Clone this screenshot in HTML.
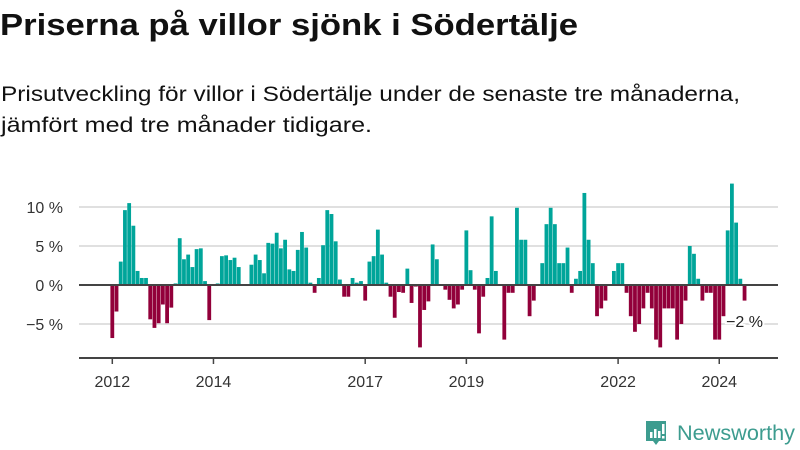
<!DOCTYPE html>
<html><head><meta charset="utf-8"><style>
body{margin:0;background:#fff;width:800px;height:450px;overflow:hidden}
svg{display:block;font-family:"Liberation Sans",sans-serif}
</style></head><body>
<svg id="chart" width="800" height="450" viewBox="0 0 800 450">
<text x="0" y="35" font-size="31" font-weight="bold" fill="#111" textLength="578" lengthAdjust="spacingAndGlyphs">Priserna på villor sjönk i Södertälje</text>
<text x="1" y="101" font-size="21" fill="#111" textLength="739" lengthAdjust="spacingAndGlyphs">Prisutveckling för villor i Södertälje under de senaste tre månaderna,</text>
<text x="1" y="132" font-size="21" fill="#111" textLength="371" lengthAdjust="spacingAndGlyphs">jämfört med tre månader tidigare.</text>
<g id="grid"></g><g id="bars"></g><g id="axes"></g>
<g>
<path d="M646 421 h20 v20 h-7 l-3 4 l-3 -4 h-7 z" fill="#3d9c8f"/>
<rect x="650" y="432" width="2.5" height="6" fill="#fff"/><rect x="654" y="429" width="2.5" height="9" fill="#fff"/><rect x="658" y="431" width="2.5" height="7" fill="#fff"/><rect x="662" y="424" width="2.5" height="10" fill="#fff"/><rect x="662" y="436" width="2.5" height="2.5" fill="#fff"/>
<text x="677" y="440" font-size="21" fill="#3d9c8f" textLength="118" lengthAdjust="spacingAndGlyphs">Newsworthy</text>
</g>
</svg>
<script>
const values = [-6.8,-3.4,3.0,9.6,10.5,7.6,1.8,0.9,0.9,-4.4,-5.5,-4.9,-2.5,-4.9,-2.9,0.2,6.0,3.3,3.9,2.3,4.6,4.7,0.5,-4.5,0,0.2,3.7,3.8,3.2,3.5,2.3,0,0,2.6,3.9,3.2,1.5,5.4,5.3,6.7,4.7,5.8,2.0,1.8,4.5,6.8,4.8,0.3,-1.0,0.9,5.1,9.6,9.1,5.6,0.7,-1.5,-1.5,0.9,0.3,0.5,-2.0,3.0,3.7,7.1,3.9,0.3,-1.5,-4.2,-0.9,-1.0,2.1,-2.3,-0.2,-8.0,-3.2,-2.1,5.2,3.3,0,-0.6,-1.9,-3.0,-2.5,-0.6,7.0,1.9,-0.6,-6.2,-1.5,0.9,8.8,1.8,0,-7.0,-1.0,-1.0,9.9,5.8,5.8,-4.0,-2.0,0,2.8,7.8,9.9,7.8,2.8,2.8,4.8,-1.0,0.8,1.8,11.8,5.8,2.8,-4.0,-3.0,-2.0,0,1.8,2.8,2.8,-1.0,-4.0,-6.0,-5.0,-3.0,-1.0,-3.0,-7.0,-8.0,-3.0,-3.0,-3.0,-7.0,-5.0,-2.0,5.0,4.0,0.8,-2.0,-1.0,-1.0,-7.0,-7.0,-4.0,7.0,13.0,8.0,0.8,-2.0];
const yTicks = [10,5,0,-5];
const yTickLabels = ["10 %","5 %","0 %","\u22125 %"];
const xTickYears = [2012,2014,2017,2019,2022,2024];
const startYear = 2012;
const lastLabel = "\u22122 %";

const NS="http://www.w3.org/2000/svg";
const x0=110.4, step=4.215, bw=3.8;
const xScale = i => x0 + i*step;
const yScale = v => 285 - v*7.8;
function mk(tag, attrs, parent){const e=document.createElementNS(NS,tag);for(const k in attrs)e.setAttribute(k,attrs[k]);parent.appendChild(e);return e;}
const grid=document.getElementById('grid'), barsG=document.getElementById('bars'), axes=document.getElementById('axes');
yTicks.forEach((t,k)=>{
  if(t!==0){const l=mk('line',{x1:79,x2:778,y1:yScale(t),y2:yScale(t),stroke:'#e0e0e0','stroke-width':2},grid);
  
  }
  const tx=mk('text',{x:63,y:yScale(t)+6,'font-size':16,fill:'#333','text-anchor':'end'},axes);
  tx.textContent=yTickLabels[k];
  
  
});
values.forEach((v,i)=>{
  if(v===0)return;
  const y=v>0?yScale(v):yScale(0);
  const r=mk('rect',{x:xScale(i),y:y,width:bw,height:Math.abs(yScale(v)-yScale(0)),fill:v>0?'#00a59a':'#92003a'},barsG);
  
  
});
const zl=mk('line',{x1:79,x2:778,y1:yScale(0),y2:yScale(0),stroke:'#444','stroke-width':2},axes);


const xa=mk('line',{x1:79,x2:778,y1:358,y2:358,stroke:'#444','stroke-width':2},axes);


xTickYears.forEach(yr=>{
  const cx=xScale((yr-startYear)*12)+bw/2;
  const tk=mk('line',{x1:cx,x2:cx,y1:358,y2:364,stroke:'#444','stroke-width':1.5},axes);
  
  
  const t=mk('text',{x:cx,y:387,'font-size':16,fill:'#333','text-anchor':'middle'},axes);
  t.textContent=String(yr);
  
  
});
const li=values.length-1;
const lb=mk('text',{x:xScale(li)+bw/2,y:327,'font-size':16,fill:'#222','text-anchor':'middle',stroke:'#fff','stroke-width':4,'paint-order':'stroke'},axes);
lb.textContent=lastLabel;


</script>
</body></html>
